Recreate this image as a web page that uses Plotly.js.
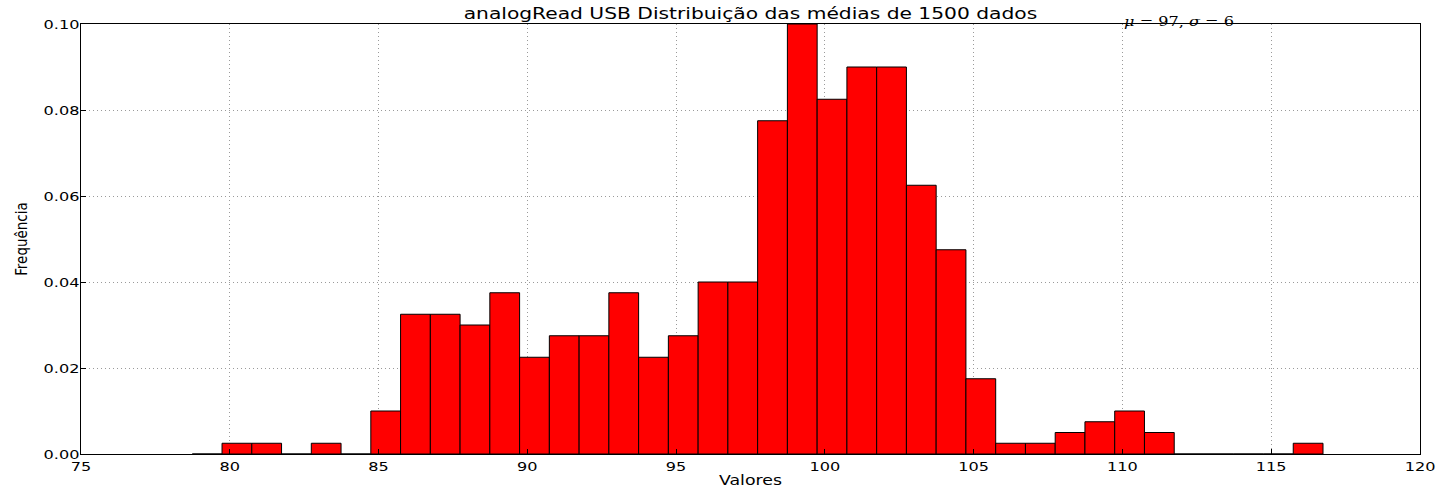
<!DOCTYPE html>
<html><head><meta charset="utf-8">
<script src="https://cdn.plot.ly/plotly-3.0.1.min.js"></script>
<style>body{margin:0;background:#fff}</style>
</head><body><div id="chart" style="width:1437px;height:488px"></div>
<script>
// Histogram data (density), bins of width 1 starting at 78.74
const binStart = 78.74;
const binWidth = 1.0;
const frequencies = [0, 0.0025, 0.0025, 0, 0.0025, 0, 0.01, 0.0325, 0.0325, 0.03,
  0.0375, 0.0225, 0.0275, 0.0275, 0.0375, 0.0225, 0.0275, 0.04, 0.04, 0.0775,
  0.10, 0.0825, 0.09, 0.09, 0.0625, 0.0475, 0.0175, 0.0025, 0.0025, 0.005,
  0.0075, 0.01, 0.005, 0, 0, 0, 0, 0.0025];
const xTickVals = [75, 80, 85, 90, 95, 100, 105, 110, 115, 120];
const yTickVals = [0.00, 0.02, 0.04, 0.06, 0.08, 0.10];
const titleText = 'analogRead USB Distribuição das médias de 1500 dados';
const statsText = '<i>μ</i> = 97, <i>σ</i> = 6';
const statsX = 110;

const centers = frequencies.map((_, i) => binStart + (i + 0.5) * binWidth);

const trace = {
  type: 'bar', x: centers, y: frequencies, width: binWidth,
  marker: {color: '#ff0000', line: {color: '#000000', width: 1}},
  hoverinfo: 'x+y'
};

const tickFont = {family: 'DejaVu Sans', size: 13, color: '#000'};
const gridStyle = {showgrid: true, gridcolor: '#9a9a9a', griddash: '1px,3px', gridwidth: 1};
const layout = {
  width: 1437, height: 488,
  margin: {l: 81, r: 17, t: 24, b: 34, pad: 0},
  paper_bgcolor: '#fff', plot_bgcolor: '#fff',
  showlegend: false, bargap: 0,
  title: {text: titleText, font: {family: 'DejaVu Sans', size: 15, color: '#000'},
          x: 0.5, xref: 'paper', y: 1 - 14/488, yref: 'container', yanchor: 'middle'},
  xaxis: Object.assign({range: [75, 120], tickvals: xTickVals, ticktext: xTickVals.map(String),
          zeroline: false, showline: true, linecolor: '#000', linewidth: 1, mirror: true,
          ticks: 'inside', ticklen: 5, tickcolor: '#000', tickfont: tickFont,
          title: {text: 'Valores', font: {family: 'DejaVu Sans', size: 14, color: '#000'}, standoff: 4}}, gridStyle),
  yaxis: Object.assign({range: [0, 0.1], tickvals: yTickVals, ticktext: yTickVals.map(v => v.toFixed(2)),
          zeroline: false, showline: true, linecolor: '#000', linewidth: 1, mirror: true,
          ticks: 'inside', ticklen: 5, tickcolor: '#000', tickfont: tickFont, ticklabelstandoff: -2,
          title: {text: 'Frequência', font: {family: 'Liberation Sans Narrow, DejaVu Sans Condensed, sans-serif', size: 15, color: '#000'}, standoff: 19}}, gridStyle),
  annotations: [{x: statsX, y: 0.1, xref: 'x', yref: 'y', xanchor: 'left', yanchor: 'bottom',
                 text: statsText, showarrow: false, yshift: -7,
                 font: {family: 'DejaVu Serif', size: 13, color: '#000'}}]
};

// the reference picture is horizontally stretched: widen text glyphs around their anchor
function stretchText(gd) {
  gd.querySelectorAll('.xtick text, .ytick text, text.gtitle, text.xtitle, text.annotation-text').forEach(t => {
    if (t.getAttribute('data-stretched')) return;
    const bb = t.getBBox();
    if (!bb.width) return;
    const s = t.classList.contains('gtitle') ? 1.35 : 1.24;
    const anchor = t.classList.contains('annotation-text') ? 'start' : (t.getAttribute('text-anchor') || 'start');
    const fx = anchor === 'end' ? bb.x + bb.width : anchor === 'middle' ? bb.x + bb.width / 2 : bb.x;
    const tr = t.getAttribute('transform') || '';
    t.setAttribute('transform', tr + ` translate(${fx},0) scale(${s},1) translate(${-fx},0)`);
    t.setAttribute('data-stretched', '1');
  });
}

Plotly.newPlot('chart', [trace], layout, {displayModeBar: false, staticPlot: true}).then(gd => {
  stretchText(gd);
  requestAnimationFrame(() => stretchText(gd));
  setTimeout(() => stretchText(gd), 50);
});
</script></body></html>
